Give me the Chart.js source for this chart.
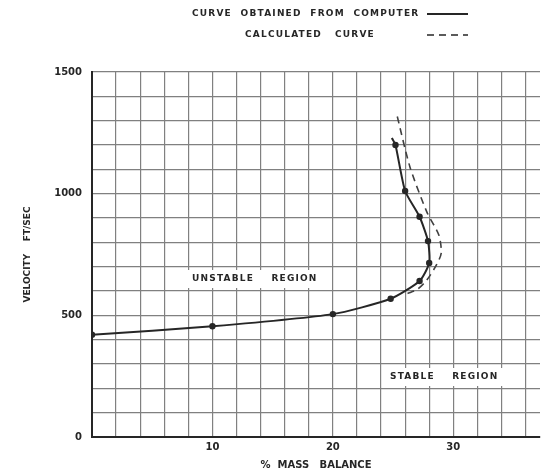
<!DOCTYPE html>
<html>
<head>
<meta charset="utf-8">
<script src="https://cdn.jsdelivr.net/npm/chart.js@4.4.0/dist/chart.umd.min.js"></script>
<style>
  html, body { margin: 0; padding: 0; background: #fff; }
</style>
</head>
<body>
<canvas id="massChart" width="546" height="471"></canvas>
<script>
// solid curve
const computerX = [0, 10, 20, 24.8, 27.2, 28.0, 27.9, 27.2, 26.0, 25.2, 24.9];
const computerY = [420, 455, 505, 568, 641, 715, 805, 905, 1011, 1200, 1229];
const computerDots = [true, true, true, true, true, true, true, true, true, true, false];

// dashed curve
const calcX = [26.2, 27.0, 27.8, 28.6, 29.0, 28.8, 27.8, 26.4, 25.3];
const calcY = [590, 606, 645, 707, 756, 830, 925, 1110, 1327];

const xTickLabels = [10, 20, 30];
const yTickLabels = [0, 500, 1000, 1500];

const ink = '#262626';
const gridColor = '#808080';

function pts(xs, ys) {
    return xs.map((x, i) => ({ x: x, y: ys[i] }));
}

const textPlugin = {
    id: 'paperText',
    beforeDatasetsDraw(chart) {
        const ctx = chart.ctx;
        ctx.save();
        ctx.font = 'bold 9px "DejaVu Sans"';
        ctx.letterSpacing = '1.2px';
        ctx.textBaseline = 'middle';
        ctx.fillStyle = '#fff';
        ctx.fillRect(185, 270, 140, 18);
        ctx.fillRect(383, 368, 130, 18);
        ctx.fillStyle = ink;
        ctx.fillText('UNSTABLE    REGION', 192, 279);
        ctx.fillText('STABLE    REGION', 390, 377);
        ctx.restore();
    },
    afterDraw(chart) {
        const ctx = chart.ctx;
        ctx.save();
        ctx.font = 'bold 9px "DejaVu Sans"';
        ctx.letterSpacing = '1.2px';
        ctx.textBaseline = 'middle';
        ctx.fillStyle = ink;
        ctx.fillText('CURVE  OBTAINED  FROM  COMPUTER', 192, 14);
        ctx.fillText('CALCULATED   CURVE', 245, 35);
        ctx.letterSpacing = '0px';
        ctx.strokeStyle = ink;
        ctx.lineWidth = 2;
        ctx.beginPath();
        ctx.moveTo(427, 14);
        ctx.lineTo(468, 14);
        ctx.stroke();
        ctx.setLineDash([7, 5]);
        ctx.lineWidth = 1.6;
        ctx.beginPath();
        ctx.moveTo(427, 35);
        ctx.lineTo(468, 35);
        ctx.stroke();
        ctx.restore();
    }
};

new Chart(document.getElementById('massChart'), {
    type: 'scatter',
    data: {
        datasets: [
            {
                label: 'CURVE OBTAINED FROM COMPUTER',
                data: pts(computerX, computerY),
                showLine: true,
                borderColor: ink,
                backgroundColor: ink,
                borderWidth: 2,
                tension: 0.2,
                pointRadius: computerDots.map(d => d ? 3.2 : 0),
                pointBackgroundColor: ink,
                pointBorderWidth: 0
            },
            {
                label: 'CALCULATED CURVE',
                data: pts(calcX, calcY),
                showLine: true,
                borderColor: '#404040',
                borderWidth: 1.6,
                borderDash: [7, 5],
                tension: 0.25,
                pointRadius: 0
            }
        ]
    },
    options: {
        responsive: false,
        animation: false,
        layout: { padding: { top: 72, right: 6, left: 0, bottom: 0 } },
        plugins: {
            legend: { display: false },
            tooltip: { enabled: false }
        },
        scales: {
            x: {
                type: 'linear',
                min: 0,
                max: 37.2,
                ticks: {
                    stepSize: 2,
                    includeBounds: false,
                    autoSkip: false,
                    maxRotation: 0,
                    padding: 4,
                    color: ink,
                    font: { family: 'DejaVu Sans', size: 10, weight: 'bold' },
                    callback: v => xTickLabels.includes(v) ? String(v) : ''
                },
                grid: { color: gridColor, lineWidth: 1.2, drawTicks: false },
                border: { color: ink, width: 2 },
                title: {
                    display: true,
                    text: '%  MASS   BALANCE',
                    color: ink,
                    font: { family: 'DejaVu Sans', size: 10, weight: 'bold' },
                    padding: { top: 2, bottom: 0 }
                },
                afterFit: s => { s.height = 34; }
            },
            y: {
                type: 'linear',
                min: 0,
                max: 1500,
                ticks: {
                    stepSize: 100,
                    autoSkip: false,
                    padding: 10,
                    color: ink,
                    font: { family: 'DejaVu Sans', size: 10, weight: 'bold' },
                    callback: v => yTickLabels.includes(v) ? String(v) : ''
                },
                grid: { color: gridColor, lineWidth: 1.2, drawTicks: false },
                border: { color: ink, width: 2 },
                title: {
                    display: true,
                    text: 'VELOCITY    FT/SEC',
                    color: ink,
                    font: { family: 'DejaVu Sans', size: 9, weight: 'bold' },
                    padding: { top: 22, bottom: 0 }
                },
                afterFit: s => { s.width = 92; }
            }
        }
    },
    plugins: [textPlugin]
});
</script>
</body>
</html>
